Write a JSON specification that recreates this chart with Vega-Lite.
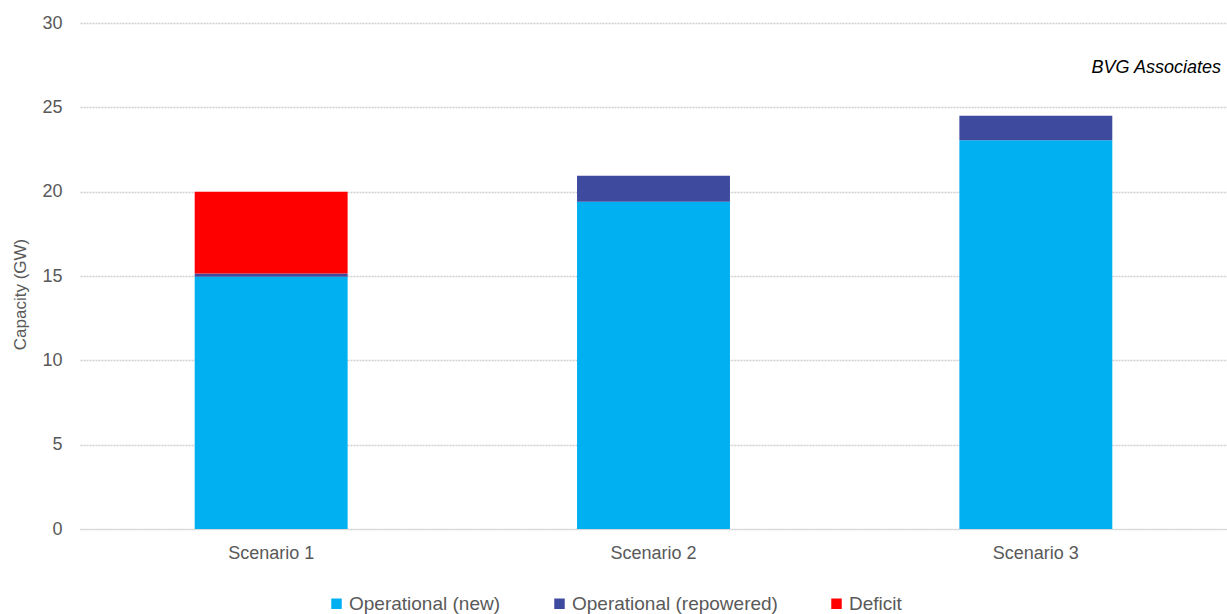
{
  "$schema": "https://vega.github.io/schema/vega-lite/v6.json",
  "width": 1147,
  "height": 506,
  "autosize": {"type": "none"},
  "padding": {"left": 80, "top": 23, "right": 0, "bottom": 85},
  "background": "white",
  "config": {
    "font": "Liberation Sans",
    "view": {"stroke": null},
    "axis": {"labelFont": "Liberation Sans", "titleFont": "Liberation Sans"}
  },
  "title": {
    "text": "BVG Associates",
    "orient": "top",
    "anchor": "end",
    "frame": "group",
    "offset": -77,
    "baseline": "alphabetic",
    "dx": -6,
    "fontStyle": "italic",
    "fontWeight": "normal",
    "fontSize": 18,
    "color": "#000000",
    "font": "Liberation Sans"
  },
  "data": {
    "values": [
      {"scenario": "Scenario 1", "type": "Operational (new)", "value": 14.95, "ord": 1},
      {"scenario": "Scenario 1", "type": "Operational (repowered)", "value": 0.2, "ord": 2},
      {"scenario": "Scenario 1", "type": "Deficit", "value": 4.85, "ord": 3},
      {"scenario": "Scenario 2", "type": "Operational (new)", "value": 19.4, "ord": 1},
      {"scenario": "Scenario 2", "type": "Operational (repowered)", "value": 1.55, "ord": 2},
      {"scenario": "Scenario 2", "type": "Deficit", "value": 0, "ord": 3},
      {"scenario": "Scenario 3", "type": "Operational (new)", "value": 23.05, "ord": 1},
      {"scenario": "Scenario 3", "type": "Operational (repowered)", "value": 1.45, "ord": 2},
      {"scenario": "Scenario 3", "type": "Deficit", "value": 0, "ord": 3}
    ]
  },
  "mark": {"type": "bar"},
  "encoding": {
    "x": {
      "field": "scenario",
      "type": "nominal",
      "scale": {"paddingInner": 0.6, "paddingOuter": 0.3},
      "axis": {
        "title": null,
        "labelAngle": 0,
        "labelFontSize": 18,
        "labelColor": "#595959",
        "labelPadding": 15,
        "ticks": false,
        "domainColor": "#D9D9D9",
        "domainWidth": 1
      }
    },
    "y": {
      "field": "value",
      "type": "quantitative",
      "stack": "zero",
      "scale": {"domain": [0, 30]},
      "axis": {
        "title": "Capacity (GW)",
        "titleFontSize": 17,
        "titleFontWeight": "normal",
        "titleColor": "#595959",
        "titlePadding": 12,
        "titleY": 271,
        "titleLimit": 300,
        "values": [0, 5, 10, 15, 20, 25, 30],
        "labelFontSize": 18,
        "labelColor": "#595959",
        "labelPadding": 18,
        "ticks": false,
        "domain": false,
        "gridColor": "#D0D0D0",
        "gridWidth": 1.5,
        "gridDash": [2, 1]
      }
    },
    "color": {
      "field": "type",
      "type": "nominal",
      "scale": {
        "domain": ["Operational (new)", "Operational (repowered)", "Deficit"],
        "range": ["#00B0F0", "#3E4A9E", "#FF0000"]
      },
      "legend": {
        "title": null,
        "orient": "none",
        "legendX": 247,
        "legendY": 571,
        "padding": 0,
        "direction": "horizontal",
        "symbolType": "square",
        "symbolSize": 110,
        "symbolStrokeWidth": 0,
        "labelFontSize": 19,
        "labelLimit": 400,
        "labelColor": "#595959",
        "labelOffset": 3,
        "columnPadding": 49
      }
    },
    "order": {"field": "ord", "type": "quantitative"}
  }
}
